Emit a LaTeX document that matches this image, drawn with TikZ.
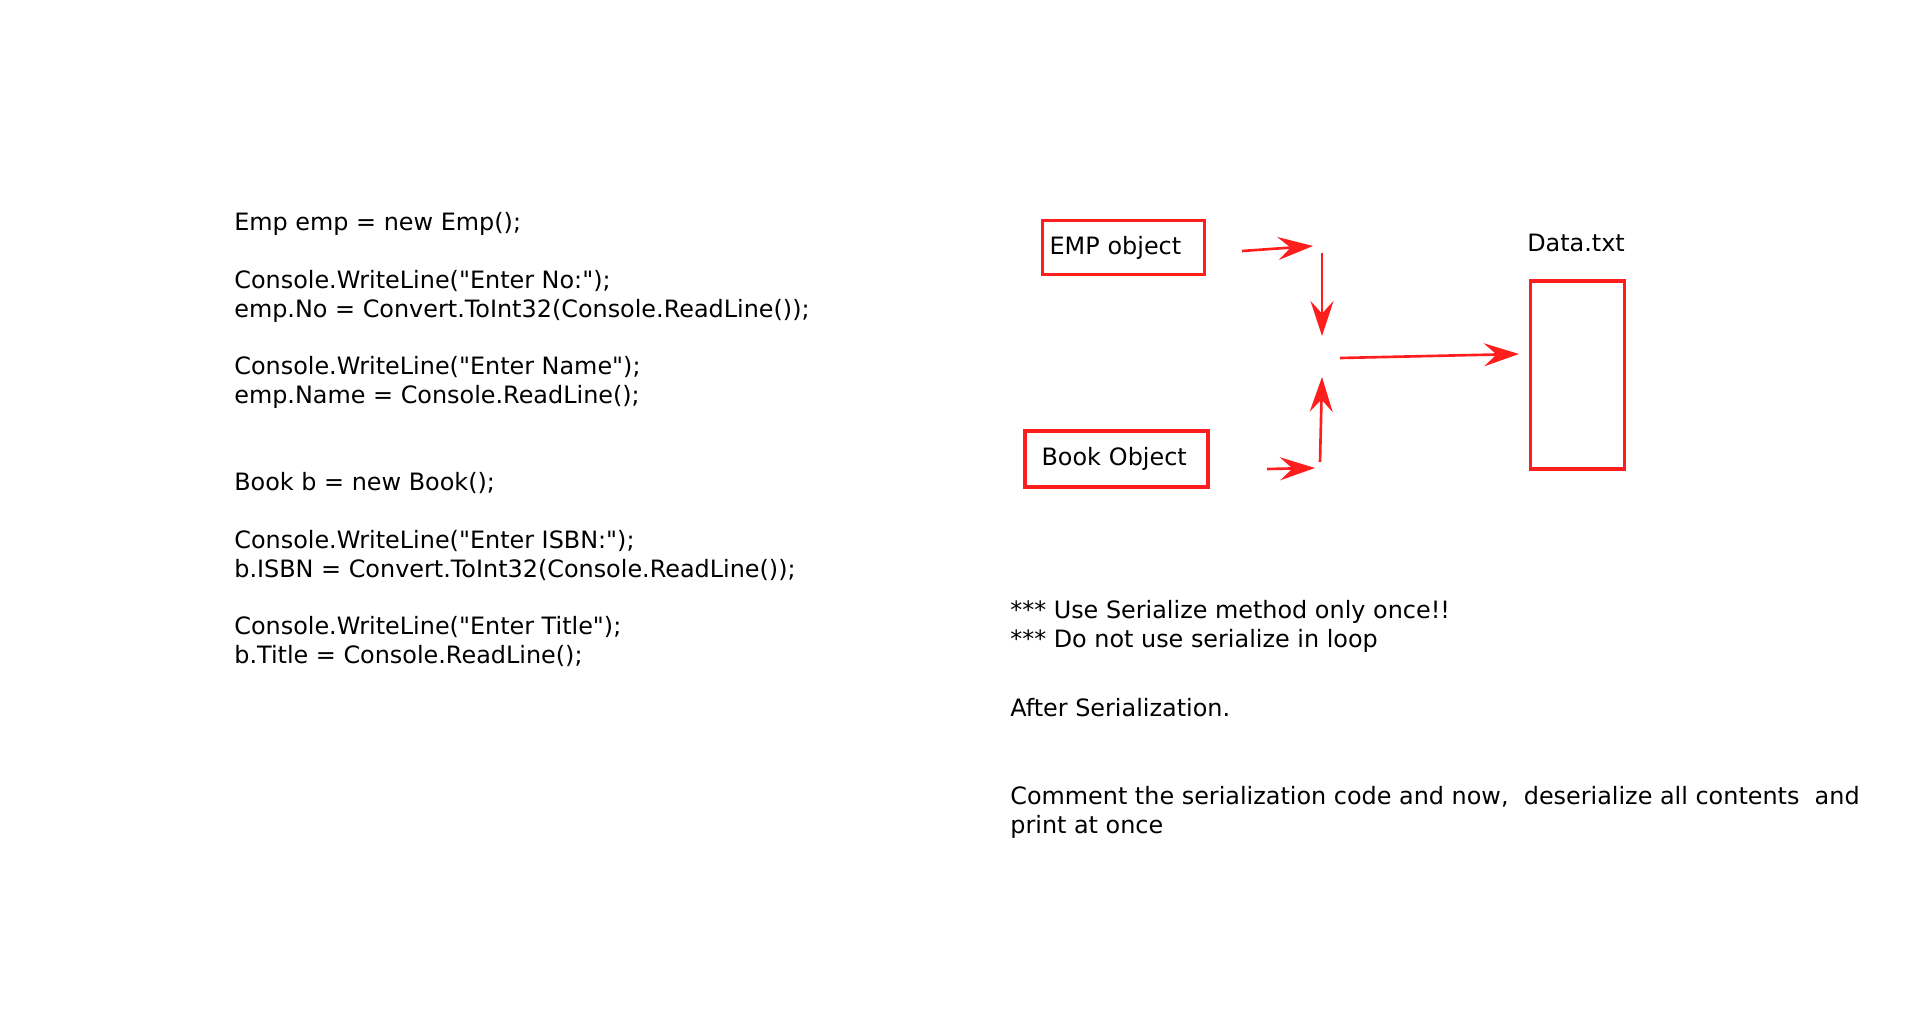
\documentclass[tikz,border=0pt]{standalone}
\usepackage{fontspec}
\setmainfont{DejaVu Sans}
\usepackage{xcolor}
\usetikzlibrary{arrows.meta, positioning}
\definecolor{linered}{RGB}{255,30,30}
\newcommand{\notefont}{\fontsize{13.6}{16.4}\selectfont}
\newcommand{\dq}{\textquotedbl}

\begin{document}
\begin{tikzpicture}[x=0.02cm, y=-0.02cm,
    >={Stealth[length=0.7cm, width=0.46cm, inset=0.25cm]},
    txt/.style={anchor=base west, inner sep=0pt, align=left, font=\notefont},
    objbox/.style={draw=linered, line width=1.9pt, align=left, font=\notefont},
    flow/.style={->, draw=linered, line width=1.5pt}]
    \useasboundingbox (0,0) rectangle (1920,1017);

    % 1. Code (base = last line)
    \node[txt] (empcode) at (234,403.5) {Emp emp = new Emp();\\ \mbox{}\\
        Console.WriteLine(\dq Enter No:\dq);\\
        emp.No = Convert.ToInt32(Console.ReadLine());\\ \mbox{}\\
        Console.WriteLine(\dq Enter Name\dq);\\
        emp.Name = Console.ReadLine();};
    \node[txt] (bookcode) at (234,663.5) {Book b = new Book();\\ \mbox{}\\
        Console.WriteLine(\dq Enter ISBN:\dq);\\
        b.ISBN = Convert.ToInt32(Console.ReadLine());\\ \mbox{}\\
        Console.WriteLine(\dq Enter Title\dq);\\
        b.Title = Console.ReadLine();};

    % 2. Notes
    \node[txt] (once) at (1010,647) {*** Use Serialize method only once!!\\
        *** Do not use serialize in loop};
    \node[txt] (after) at (1010,716) {After Serialization.};
    \node[txt] (comment) at (1010,833) {Comment the serialization code and now,~ deserialize all contents~ and\\
        print at once};

    % 3. Objects and file
    \node[objbox, text width=2.96cm, inner xsep=0.138cm, minimum height=1.076cm] (emp) at (1123.5,247.5) {EMP object};
    \node[objbox, text width=3.0cm, inner xsep=0.33cm, minimum height=1.12cm] (book) at (1116.5,459) {Book Object};
    \node[objbox, minimum width=1.87cm, minimum height=3.76cm] (data) at (1577.5,375) {};
    \node[txt, anchor=base] (datalbl) at (1576,251) {Data.txt};

    % 4. Arrows
    \coordinate (empout) at (1242,251);
    \coordinate (empin) at (1313,246);
    \coordinate (downtop) at (1322,253);
    \coordinate (downtip) at (1322,336);
    \coordinate (bookout) at (1267,469);
    \coordinate (bookin) at (1315,468);
    \coordinate (uptail) at (1320,462);
    \coordinate (uptip) at (1322,377);
    \coordinate (mergeout) at (1340,358);
    \coordinate (filein) at (1519,354);
    \draw[flow] (empout) -- (empin);
    \draw[flow] (downtop) -- (downtip);
    \draw[flow] (bookout) -- (bookin);
    \draw[flow] (uptail) -- (uptip);
    \draw[flow] (mergeout) -- (filein);
\end{tikzpicture}
\end{document}
